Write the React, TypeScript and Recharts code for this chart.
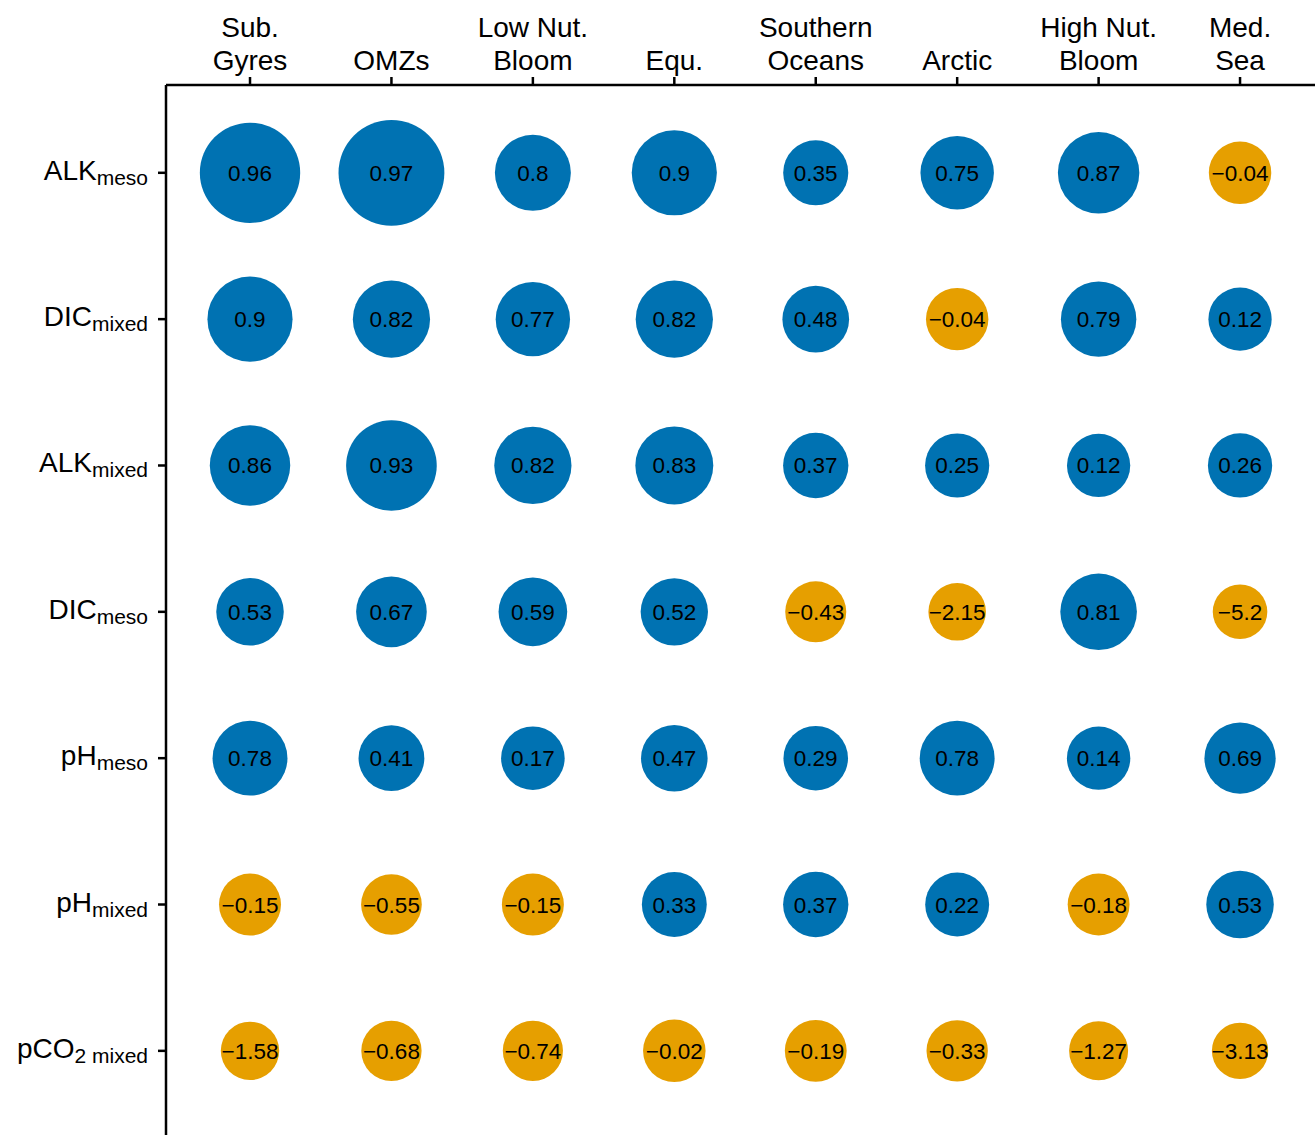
import React from "react";
import { Cell, Scatter, ScatterChart, XAxis, YAxis, ZAxis } from "recharts";

// regions along the top, variables down the side
const regionLines: string[][] = [
  ["Sub.", "Gyres"],
  ["OMZs"],
  ["Low Nut.", "Bloom"],
  ["Equ."],
  ["Southern", "Oceans"],
  ["Arctic"],
  ["High Nut.", "Bloom"],
  ["Med.", "Sea"],
];

const varBase = ["ALK", "DIC", "ALK", "DIC", "pH", "pH", "pCO"];
const varSub = ["meso", "mixed", "mixed", "meso", "meso", "mixed", "2 mixed"];

const alkMeso = [0.96, 0.97, 0.8, 0.9, 0.35, 0.75, 0.87, -0.04];
const dicMixed = [0.9, 0.82, 0.77, 0.82, 0.48, -0.04, 0.79, 0.12];
const alkMixed = [0.86, 0.93, 0.82, 0.83, 0.37, 0.25, 0.12, 0.26];
const dicMeso = [0.53, 0.67, 0.59, 0.52, -0.43, -2.15, 0.81, -5.2];
const phMeso = [0.78, 0.41, 0.17, 0.47, 0.29, 0.78, 0.14, 0.69];
const phMixed = [-0.15, -0.55, -0.15, 0.33, 0.37, 0.22, -0.18, 0.53];
const pco2Mixed = [-1.58, -0.68, -0.74, -0.02, -0.19, -0.33, -1.27, -3.13];

const rows = [alkMeso, dicMixed, alkMixed, dicMeso, phMeso, phMixed, pco2Mixed];

const BLUE = "#0072B2";
const ORANGE = "#E69F00";
const FONT = '"Liberation Sans", Arial, Helvetica, sans-serif';

// bubble weight grows with the score (log-odds style), squared -> area
const weight = (v: number) => {
  const l = -Math.log(1 - v);
  const r = l < 0 ? 31.3 + 2.2 * l : 31.3 + 2.45 * l + 1.06 * l * l;
  return r * r;
};

const cells = rows.flatMap((row, ri) =>
  row.map((v, ci) => ({ x: ci, y: ri, v, w: weight(v) }))
);
const wMin = Math.min(...cells.map((c) => c.w));
const wMax = Math.max(...cells.map((c) => c.w));

const fmt = (v: number) => (v < 0 ? "\u2212" + String(-v) : String(v));

const TopTick = (props: any) => {
  const { x, y, payload } = props;
  const lines = regionLines[payload.value] || [];
  return (
    <g>
      {lines.map((line, i) => (
        <text
          key={i}
          x={x}
          y={y - 7 - (lines.length - 1 - i) * 33}
          textAnchor="middle"
          fontSize={28}
          fontFamily={FONT}
          fill="#000"
        >
          {line}
        </text>
      ))}
    </g>
  );
};

const LeftTick = (props: any) => {
  const { x, y, payload } = props;
  const i = payload.value;
  return (
    <text x={x - 10} y={y + 7} textAnchor="end" fontFamily={FONT} fill="#000">
      <tspan fontSize={28}>{varBase[i]}</tspan>
      <tspan fontSize={21} dy={5}>
        {varSub[i]}
      </tspan>
    </text>
  );
};

const Bubble = (props: any) => {
  const { cx, cy, width, payload } = props;
  return (
    <g>
      <circle cx={cx} cy={cy} r={width / 2} fill={payload.v < 0 ? ORANGE : BLUE} />
      <text
        x={cx}
        y={cy + 8}
        textAnchor="middle"
        fontSize={22.5}
        fontFamily={FONT}
        fill="#000"
      >
        {fmt(payload.v)}
      </text>
    </g>
  );
};

export default function App() {
  return (
    <div style={{ position: "absolute", left: 0, top: 0, background: "#fff" }}>
      <ScatterChart
        width={1315}
        height={1135}
        margin={{ top: 0, right: 0, bottom: 0, left: 0 }}
      >
        <XAxis
          type="number"
          dataKey="x"
          orientation="top"
          domain={[-0.594, 7.53]}
          allowDataOverflow
          ticks={[0, 1, 2, 3, 4, 5, 6, 7]}
          height={85}
          tickSize={8}
          tickMargin={0}
          tick={<TopTick />}
          axisLine={{ stroke: "#000", strokeWidth: 2.5 }}
          tickLine={{ stroke: "#000", strokeWidth: 2.5 }}
        />
        <YAxis
          type="number"
          dataKey="y"
          domain={[-0.6, 6.575]}
          reversed
          allowDataOverflow
          ticks={[0, 1, 2, 3, 4, 5, 6]}
          width={166}
          tickSize={8}
          tickMargin={0}
          tick={<LeftTick />}
          axisLine={{ stroke: "#000", strokeWidth: 2.5 }}
          tickLine={{ stroke: "#000", strokeWidth: 2.5 }}
        />
        <ZAxis
          type="number"
          dataKey="w"
          domain={[wMin, wMax]}
          range={[Math.PI * wMin, Math.PI * wMax]}
        />
        <Scatter data={cells} shape={<Bubble />} isAnimationActive={false}>
          {cells.map((c, i) => (
            <Cell key={i} fill={c.v < 0 ? ORANGE : BLUE} />
          ))}
        </Scatter>
      </ScatterChart>
    </div>
  );
}
